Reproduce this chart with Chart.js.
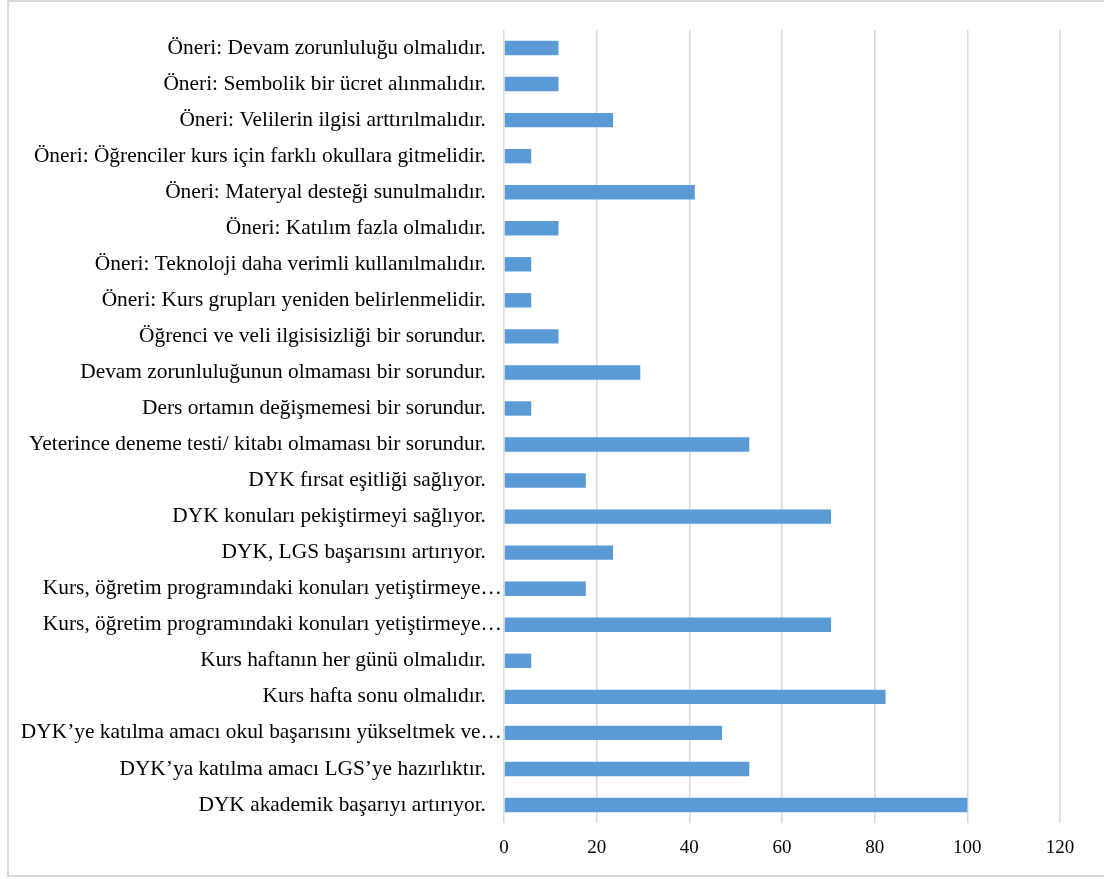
<!DOCTYPE html>
<html>
<head>
<meta charset="utf-8">
<script src="https://cdn.jsdelivr.net/npm/chart.js@4/dist/chart.umd.min.js"></script>
<style>
html,body{margin:0;padding:0;background:#fff;}
#wrap{position:relative;width:1104px;height:879px;overflow:hidden;}
#frame{position:absolute;left:7px;top:0px;width:1110px;height:877px;border:2px solid #d9d9d9;box-sizing:border-box;pointer-events:none;}
canvas{position:absolute;left:0;top:0;}
</style>
</head>
<body>
<div id="wrap">
<canvas id="c" width="1104" height="879"></canvas>
<div id="frame"></div>
</div>
<script>
const categories = [
  "Öneri: Devam zorunluluğu olmalıdır.",
  "Öneri: Sembolik bir ücret alınmalıdır.",
  "Öneri: Velilerin ilgisi arttırılmalıdır.",
  "Öneri: Öğrenciler kurs için farklı okullara gitmelidir.",
  "Öneri: Materyal desteği sunulmalıdır.",
  "Öneri: Katılım fazla olmalıdır.",
  "Öneri: Teknoloji daha verimli kullanılmalıdır.",
  "Öneri: Kurs grupları yeniden belirlenmelidir.",
  "Öğrenci ve veli ilgisisizliği bir sorundur.",
  "Devam zorunluluğunun olmaması bir sorundur.",
  "Ders ortamın değişmemesi bir sorundur.",
  "Yeterince deneme testi/ kitabı olmaması bir sorundur.",
  "DYK fırsat eşitliği sağlıyor.",
  "DYK konuları pekiştirmeyi sağlıyor.",
  "DYK, LGS başarısını artırıyor.",
  "Kurs, öğretim programındaki konuları yetiştirmeye…",
  "Kurs, öğretim programındaki konuları yetiştirmeye…",
  "Kurs haftanın her günü olmalıdır.",
  "Kurs hafta sonu olmalıdır.",
  "DYK’ye katılma amacı okul başarısını yükseltmek ve…",
  "DYK’ya katılma amacı LGS’ye hazırlıktır.",
  "DYK akademik başarıyı artırıyor."
];
const values = [
  11.76, 11.76, 23.53, 5.88, 41.18, 11.76, 5.88, 5.88, 11.76, 29.41, 5.88,
  52.94, 17.65, 70.59, 23.53, 17.65, 70.59, 5.88, 82.35, 47.06, 52.94, 100
];
const xTicks = [0, 20, 40, 60, 80, 100, 120];

const FONT = "'Liberation Serif', 'Times New Roman', serif";
const grid = '#d9d9d9';

new Chart(document.getElementById('c'), {
  type: 'bar',
  data: {
    labels: categories,
    datasets: [{
      data: values,
      backgroundColor: '#5b9bd5',
      borderWidth: 0,
      barPercentage: 0.4,
      categoryPercentage: 1
    }]
  },
  options: {
    indexAxis: 'y',
    responsive: false,
    animation: false,
    layout: { padding: { left: 8, top: 30, right: 44, bottom: 0 } },
    plugins: { legend: { display: false }, tooltip: { enabled: false } },
    scales: {
      x: {
        min: xTicks[0],
        max: xTicks[xTicks.length - 1],
        afterBuildTicks: s => { s.ticks = xTicks.map(v => ({ value: v })); },
        afterFit: s => { s.height = 56; },
        grid: { color: grid, lineWidth: 1.5, drawTicks: false },
        border: { display: false },
        ticks: { color: '#000', padding: 14, font: { family: FONT, size: 19 } }
      },
      y: {
        afterFit: s => { s.width = 496; },
        grid: { display: false, drawTicks: false },
        border: { display: false },
        ticks: {
          color: '#000',
          padding: 2,
          autoSkip: false,
          font: { family: FONT, size: 21.4 },
          callback: function (v) {
            const t = this.getLabelForValue(v);
            return t.endsWith('…') ? t : t + '   ';
          }
        }
      }
    }
  }
});
</script>
</body>
</html>
